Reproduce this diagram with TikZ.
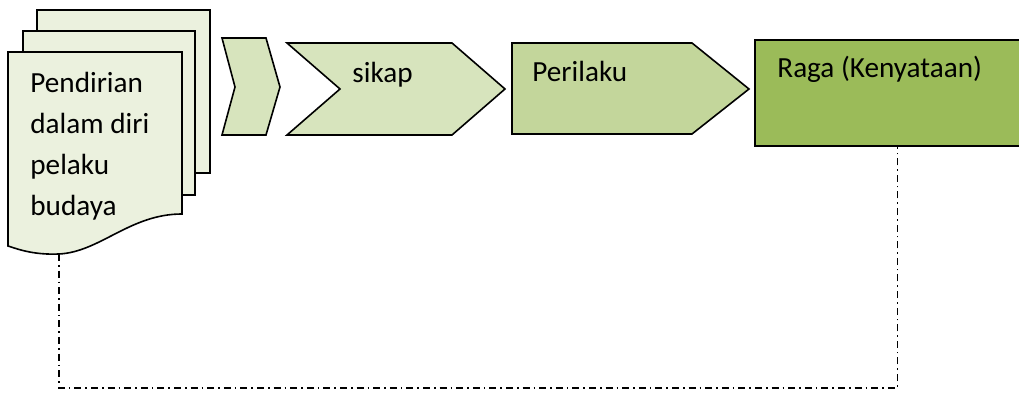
\documentclass[tikz,border=0pt]{standalone}
\usepackage{fontspec}
\setmainfont{Carlito}
\definecolor{pagegreen}{RGB}{235,241,222}
\definecolor{chevgreen}{RGB}{215,228,189}
\definecolor{perigreen}{RGB}{195,214,155}
\definecolor{ragagreen}{RGB}{155,187,89}
\begin{document}
\begin{tikzpicture}[x=0.5pt,y=-0.5pt,
    blockline/.style={draw=black,line width=0.8pt,line join=miter},
    lbl/.style={inner sep=0pt,anchor=base west,font=\fontsize{14.6}{20.5}\selectfont},
    link/.style={line width=0.55pt,dash pattern=on 3.5pt off 2pt on 0.8pt off 2pt}]
  \clip (0,0) rectangle (1019,394);
  % stacked pages
  \filldraw[blockline,fill=pagegreen] (37,10) rectangle (210,173);
  \filldraw[blockline,fill=pagegreen] (23,31) rectangle (195,195);
  \filldraw[blockline,fill=pagegreen] (8,52) -- (182,52) -- (182,214)
     .. controls (130,214) and (100,252) .. (59,254)
     .. controls (35,255) and (20,250) .. (8,246) -- cycle;
  \coordinate (docbot) at (59,254);
  \node[lbl,anchor=north west,align=left] (pendirian) at (30,72)
     {Pendirian\\dalam diri\\pelaku\\budaya};
  % chevrons
  \filldraw[blockline,fill=chevgreen] (222,38) -- (266,38) -- (280,87)
     -- (266,135) -- (222,135) -- (235,87) -- cycle;
  \filldraw[blockline,fill=chevgreen] (287,43) -- (452,43) -- (505,89)
     -- (452,135) -- (287,135) -- (340,89) -- cycle;
  \node[lbl] (sikap) at (352,83) {sikap};
  \filldraw[blockline,fill=perigreen] (512,43) -- (692,43) -- (749,89)
     -- (692,134) -- (512,134) -- cycle;
  \node[lbl] (perilaku) at (532,82) {Perilaku};
  % result box
  \node[blockline,fill=ragagreen,inner sep=0pt,minimum width=142.5pt,
     minimum height=53pt] (raga) at (897.5,93) {};
  \node[lbl] (ragatext) at (777,78) {Raga (Kenyataan)};
  \draw[link] (docbot) -- ++(0,134) -| (raga.south);
\end{tikzpicture}
\end{document}
